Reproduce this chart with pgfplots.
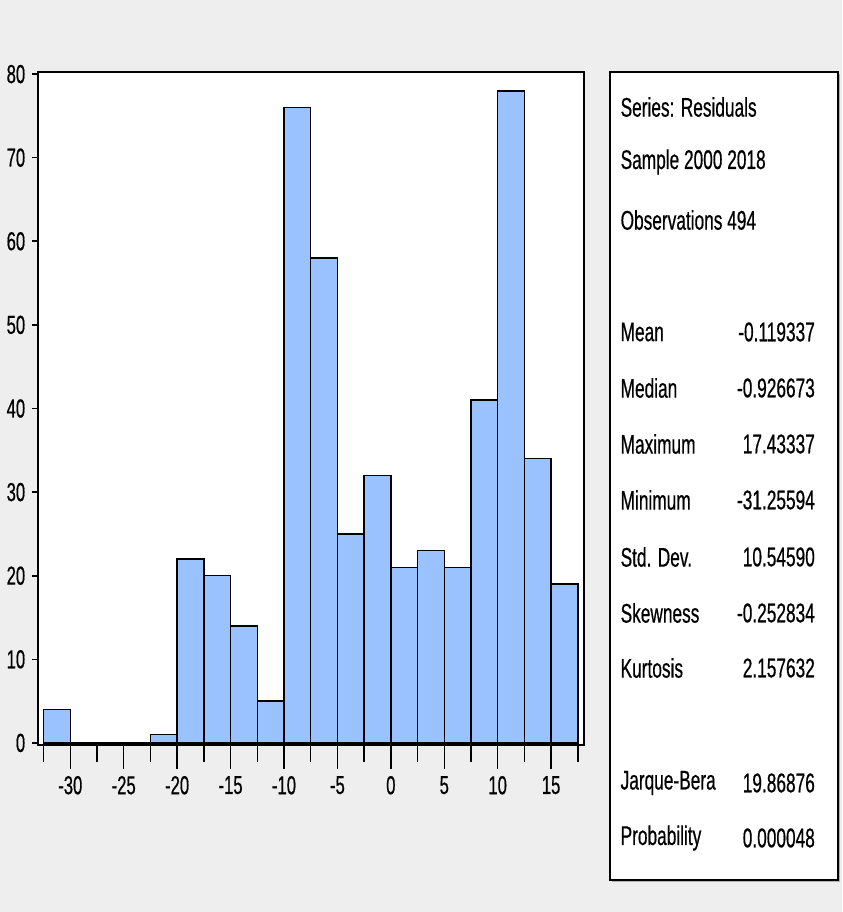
\documentclass[border=0pt]{standalone}
\usepackage{fontspec}
\setmainfont{Liberation Sans}[FakeStretch=0.64, FakeBold=0.5]
\usepackage{pgfplots}
\pgfplotsset{compat=1.18}
\definecolor{bg}{RGB}{238,238,238}
\definecolor{barblue}{RGB}{153,194,255}
\begin{document}
\begin{tikzpicture}
\fill[bg] (0,0) rectangle (421pt,456pt);
\begin{axis}[
  at={(19pt,83.5pt)}, anchor=south west, scale only axis,
  width=273pt, height=336.5pt,
  xmin=-33, xmax=18.1, ymin=-0.25, ymax=80.25,
  axis background/.style={fill=white},
  axis line style={line width=0.9pt},
  xtick={-30,-25,...,15}, minor xtick={-32.5,-27.5,...,17.5},
  x tick label as interval=false,
  xtick pos=bottom, tick align=outside,
  major tick length=12pt, minor tick length=8.5pt,
  every tick/.style={black, line width=0.7pt},
  ytick=\empty,
  tick label style={font=\fontsize{13}{15}\selectfont},
  /pgf/number format/assume math mode=true,
]
\addplot[ybar interval, fill=barblue, draw=black, line width=0.75pt] coordinates {
(-32.5,4) (-30,0) (-27.5,0) (-25,0) (-22.5,1) (-20,22) (-17.5,20) (-15,14)
(-12.5,5) (-10,76) (-7.5,58) (-5,25) (-2.5,32) (0,21) (2.5,23) (5,21)
(7.5,41) (10,78) (12.5,34) (15,19) (17.5,19)};
\end{axis}
\begin{axis}[
  at={(19pt,83.5pt)}, anchor=south west, scale only axis,
  width=273pt, height=336.5pt,
  xmin=-33, xmax=18.1, ymin=-0.25, ymax=80.25,
  hide x axis, axis y line*=left,
  y axis line style={draw=none},
  ytick={0,10,...,80}, tick align=outside, major tick length=3pt,
  ytick style={black, line width=0.8pt},
  tick label style={font=\fontsize{13}{15}\selectfont},
  /pgf/number format/assume math mode=true,
]
\end{axis}
% statistics box
\fill[gray!60] (306pt,15pt) rectangle (420pt,419pt);
\draw[line width=0.9pt, fill=white] (305pt,16pt) rectangle (419pt,420pt);
\begin{scope}[every node/.style={font=\fontsize{13.5}{15}\selectfont, inner sep=0pt}]
\node[anchor=west] at (310pt,402.5pt) {Series: Residuals};
\node[anchor=west] at (310pt,375pt) {Sample 2000 2018};
\node[anchor=west] at (310pt,346pt) {Observations 494};
\foreach \lab/\val/\y in {Mean/-0.119337/290, Median/-0.926673/262, Maximum/17.43337/234, Minimum/-31.25594/206, Std. Dev./10.54590/177.5, Skewness/-0.252834/149.5, Kurtosis/2.157632/122, Jarque-Bera/19.86876/64.5, Probability/0.000048/37}{
  \node[anchor=west] at (310pt,\y pt) {\lab};
  \node[anchor=east] at (407.5pt,\y pt) {\val};
}
\end{scope}
\end{tikzpicture}
\end{document}
